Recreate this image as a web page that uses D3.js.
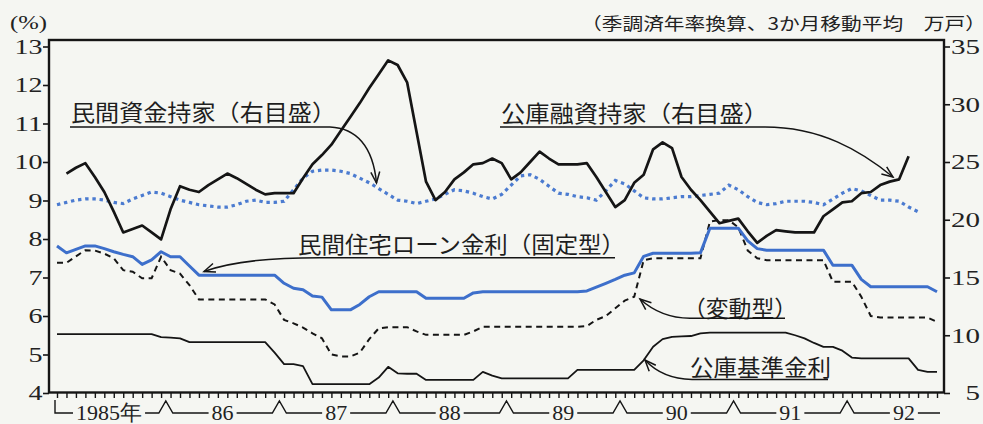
<!DOCTYPE html>
<html><head><meta charset="utf-8">
<script src="https://cdn.jsdelivr.net/npm/d3@7"></script>
<style>
body{margin:0;background:#f5f6f2;}
svg{display:block}
</style></head><body>
<svg id="c" width="983" height="424"></svg>
<script>
// ---- data (monthly, Jan 1985 = index 0 ... Oct 1992 = index 93) ----
const months = d3.range(94);
const yearLabels = ["1985年","86","87","88","89","90","91","92"];
const leftTicks = [4,5,6,7,8,9,10,11,12,13];
const rightTicks = [5,10,15,20,25,30,35];

// 民間資金持家 (万戸, right scale), starts Feb 1985 (index 1)
const privateStartIndex = 1;
const privateHousing = [24.0,24.5,24.9,23.7,22.4,20.7,18.9,19.2,19.5,18.9,18.3,20.9,22.9,22.6,22.4,23.0,23.5,24.0,23.6,23.1,
22.6,22.2,22.3,22.3,22.3,23.6,24.8,25.6,26.5,27.7,28.9,30.1,31.4,32.6,33.8,33.4,31.9,27.6,23.3,21.7,
22.4,23.5,24.1,24.8,24.9,25.3,24.9,23.5,24.1,25.0,25.9,25.3,24.8,24.8,24.8,24.9,23.7,22.4,21.1,21.7,
23.2,23.9,26.1,26.7,26.2,23.7,22.6,21.7,20.7,19.7,19.9,20.1,19.0,18.0,18.6,19.1,19.0,18.9,18.9,18.9,
20.3,20.9,21.5,21.6,22.3,22.4,23.0,23.3,23.5,25.5];

// 公庫融資持家 (万戸, right scale), index 0..91
const publicHousing = [21.3,21.5,21.7,21.8,21.8,21.7,21.5,21.4,21.8,22.1,22.4,22.3,22.0,21.7,21.5,21.3,21.2,21.1,21.1,21.3,
21.6,21.7,21.5,21.5,21.6,22.6,23.6,24.2,24.3,24.3,24.2,24.0,23.6,23.2,22.7,22.2,21.7,21.6,21.4,21.6,
21.8,22.2,22.6,22.5,22.3,22.0,21.8,22.2,23.0,23.8,23.9,23.5,22.9,22.3,22.2,22.0,21.9,21.7,22.5,23.4,
23.1,22.5,21.9,21.8,21.8,21.9,22.0,22.0,22.1,22.2,22.3,23.0,22.6,22.0,21.5,21.3,21.4,21.6,21.6,21.6,
21.5,21.3,21.8,22.3,22.7,22.5,22.1,21.7,21.7,21.6,21.1,20.7];

// 民間住宅ローン金利（固定型） (%, left scale)
const fixedRate = [7.82,7.64,7.73,7.82,7.82,7.75,7.67,7.60,7.54,7.34,7.46,7.67,7.54,7.54,7.30,7.06,7.06,7.06,7.06,7.06,
7.06,7.06,7.06,7.06,6.85,6.72,6.68,6.52,6.49,6.16,6.16,6.16,6.30,6.50,6.63,6.63,6.63,6.63,6.63,6.46,
6.46,6.46,6.46,6.46,6.60,6.63,6.63,6.63,6.63,6.63,6.63,6.63,6.63,6.63,6.63,6.63,6.65,6.75,6.85,6.95,
7.06,7.12,7.55,7.63,7.63,7.63,7.63,7.63,7.64,8.28,8.28,8.28,8.28,7.95,7.75,7.71,7.71,7.71,7.71,7.71,
7.71,7.71,7.32,7.32,7.32,6.95,6.76,6.76,6.76,6.76,6.76,6.76,6.76,6.63];

// （変動型） (%, left scale)
const variableRate = [7.38,7.38,7.55,7.71,7.70,7.62,7.50,7.19,7.15,6.98,6.98,7.54,7.19,7.10,6.80,6.43,6.43,6.43,6.43,6.43,
6.43,6.43,6.43,6.30,5.90,5.81,5.70,5.55,5.42,5.00,4.95,4.95,5.05,5.40,5.68,5.71,5.71,5.71,5.60,5.51,
5.51,5.51,5.51,5.51,5.60,5.72,5.72,5.72,5.72,5.72,5.72,5.72,5.72,5.72,5.72,5.72,5.74,5.90,6.00,6.20,
6.40,6.50,7.45,7.50,7.50,7.50,7.50,7.50,7.50,8.45,8.49,8.49,8.30,7.70,7.50,7.45,7.45,7.45,7.45,7.45,
7.45,7.45,6.89,6.89,6.89,6.50,6.00,5.96,5.96,5.96,5.96,5.96,5.96,5.85];

// 公庫基準金利 (%, left scale)
const publicRate = [5.53,5.53,5.53,5.53,5.53,5.53,5.53,5.53,5.53,5.53,5.53,5.45,5.44,5.42,5.32,5.32,5.32,5.32,5.32,5.32,
5.32,5.32,5.32,5.05,4.75,4.75,4.70,4.23,4.23,4.23,4.23,4.23,4.23,4.23,4.40,4.68,4.51,4.50,4.50,4.34,
4.34,4.34,4.34,4.34,4.34,4.55,4.45,4.38,4.38,4.38,4.38,4.38,4.38,4.38,4.38,4.60,4.60,4.60,4.60,4.60,
4.60,4.60,4.85,5.20,5.40,5.46,5.47,5.48,5.55,5.57,5.57,5.57,5.57,5.57,5.57,5.57,5.57,5.57,5.50,5.42,
5.30,5.20,5.20,5.10,4.92,4.90,4.90,4.90,4.90,4.90,4.90,4.60,4.55,4.55];

// ---- layout ----
const svg = d3.select("#c");
const X0 = 49, X1 = 944, Y0 = 40, Y1 = 392.5;
const x = d3.scaleLinear().domain([0, 93]).range([57, 937]);
const yL = d3.scaleLinear().domain([4, 13]).range([393, 46.5]);
const yR = d3.scaleLinear().domain([5, 35]).range([393, 46.5]);
const INK = "#151515";
const SERIF = "'Liberation Serif','Times New Roman',serif";
const CJK = "'Noto Sans CJK JP','Noto Sans CJK SC',sans-serif";

// data lines
const lineR = d3.line().defined(d => d.v != null).x(d => x(d.i)).y(d => yR(d.v));
const lineL = d3.line().defined(d => d.v != null).x(d => x(d.i)).y(d => yL(d.v));
const toPts = (arr, start) => arr.map((v, k) => ({i: k + start, v}));

const gData = svg.append("g");
gData.append("path").datum(toPts(publicHousing, 0)).attr("d", lineR)
  .attr("fill", "none").attr("stroke", "#4b7bd0").attr("stroke-width", 3.2)
  .attr("stroke-dasharray", "3.4,3.8").attr("stroke-linecap", "butt");
gData.append("path").datum(toPts(privateHousing, privateStartIndex)).attr("d", lineR)
  .attr("fill", "none").attr("stroke", INK).attr("stroke-width", 2.7).attr("stroke-linejoin", "round");
gData.append("path").datum(toPts(variableRate, 0)).attr("d", lineL)
  .attr("fill", "none").attr("stroke", INK).attr("stroke-width", 2).attr("stroke-dasharray", "6,4.5");
gData.append("path").datum(toPts(fixedRate, 0)).attr("d", lineL)
  .attr("fill", "none").attr("stroke", "#3d6fcb").attr("stroke-width", 3).attr("stroke-linejoin", "round");
gData.append("path").datum(toPts(publicRate, 0)).attr("d", lineL)
  .attr("fill", "none").attr("stroke", INK).attr("stroke-width", 1.8).attr("stroke-linejoin", "round");

// frame
svg.append("rect").attr("x", X0).attr("y", Y0).attr("width", X1 - X0).attr("height", Y1 - Y0)
  .attr("fill", "none").attr("stroke", INK).attr("stroke-width", 2.4);

// left axis
const gL = svg.append("g").attr("transform", `translate(${X0},0)`)
  .call(d3.axisLeft(yL).tickValues(leftTicks).tickSize(6).tickPadding(0.5).tickFormat(d3.format("d")));
gL.select(".domain").remove();
gL.selectAll(".tick line").attr("stroke", INK).attr("stroke-width", 1.6);
gL.selectAll(".tick text").attr("font-family", SERIF).attr("font-size", 21.5).attr("fill", "#222")
  .attr("textLength", d => String(d).length * 14).attr("lengthAdjust", "spacingAndGlyphs");

// right axis
const gR = svg.append("g").attr("transform", `translate(${X1},0)`)
  .call(d3.axisRight(yR).tickValues(rightTicks).tickSize(6).tickFormat(d3.format("d")));
gR.select(".domain").remove();
gR.selectAll(".tick line").attr("stroke", INK).attr("stroke-width", 1.6);
gR.selectAll(".tick text").attr("font-family", SERIF).attr("font-size", 21.5).attr("fill", "#222")
  .attr("x", 36).attr("text-anchor", "end")
  .attr("textLength", d => String(d).length * 14.5).attr("lengthAdjust", "spacingAndGlyphs");

// bottom month ticks
const gB = svg.append("g").attr("transform", `translate(0,${Y1})`)
  .call(d3.axisBottom(x).tickValues(months).tickSize(5.5).tickFormat(""));
gB.select(".domain").remove();
gB.selectAll(".tick line").attr("stroke", INK).attr("stroke-width", 1.4);

// year labels and bracket line
const yrY = 420, brY = 413, peakY = 401;
const yrG = svg.append("g");
const yrText = yrG.selectAll("text").data(yearLabels).join("text")
  .attr("x", (d, k) => x(12 * k + 5.5)).attr("y", yrY)
  .attr("text-anchor", "middle").attr("font-family", SERIF).attr("font-size", 22).attr("fill", "#222")
  .text(d => d);
const boxes = [];
yrText.each(function() { const b = this.getBBox(); boxes.push([b.x, b.x + b.width]); });
let p = `M${x(0) - 2},${peakY - 1}V${brY}H${boxes[0][0] - 3}`;
for (let k = 1; k < yearLabels.length; k++) {
  const bx = x(12 * k - 0.5);
  p += `M${boxes[k - 1][1] + 3},${brY}H${bx - 7}L${bx},${peakY}L${bx + 7},${brY}H${boxes[k][0] - 3}`;
}
p += `M${boxes[yearLabels.length - 1][1] + 3},${brY}H${x(93) + 3}`;
yrG.append("path").attr("d", p).attr("fill", "none").attr("stroke", INK).attr("stroke-width", 1.4);

// headers
svg.append("text").attr("x", 10).attr("y", 29).attr("font-family", SERIF).attr("font-size", 19)
  .attr("fill", "#222").attr("textLength", 37).attr("lengthAdjust", "spacingAndGlyphs").text("(%)");
svg.append("text").attr("x", 581).attr("y", 22).attr("dominant-baseline", "central")
  .attr("font-family", CJK).attr("font-size", 17).attr("fill", "#222")
  .attr("textLength", 405).attr("lengthAdjust", "spacingAndGlyphs")
  .text("（季調済年率換算、3か月移動平均　万戸）");

// annotations
const notes = [
  {t: "民間資金持家（右目盛）", x: 71, y: 111, w: 265,
   path: "M70,127H330C356,128 373,146 376.5,183", tip: [376.5, 183], from: [374, 160]},
  {t: "公庫融資持家（右目盛）", x: 501, y: 112, w: 267,
   path: "M500,127H765C820,127 860,150 893,177", tip: [893, 177], from: [870, 160]},
  {t: "民間住宅ローン金利（固定型）", x: 298, y: 243, w: 327,
   path: "M615,257.7H330C270,257 230,262 204,271.5", tip: [204, 271.5], from: [225, 264]},
  {t: "（変動型）", x: 683, y: 307, w: 114,
   path: "M785,318.3H690C668,318 652,310 640,299", tip: [640, 299], from: [652, 309]},
  {t: "公庫基準金利", x: 690, y: 366, w: 141,
   path: "M828,379.5H692C672,379 656,372 645,360", tip: [645, 360], from: [655, 371]}
];
const gN = svg.append("g");
notes.forEach(n => {
  gN.append("text").attr("x", n.x).attr("y", n.y).attr("dominant-baseline", "central")
    .attr("font-family", CJK).attr("font-size", 22.5).attr("fill", "#1e1e1e")
    .attr("textLength", n.w).attr("lengthAdjust", "spacingAndGlyphs").text(n.t);
  gN.append("path").attr("d", n.path).attr("fill", "none").attr("stroke", INK).attr("stroke-width", 1.5);
  const ang = Math.atan2(n.tip[1] - n.from[1], n.tip[0] - n.from[0]);
  const L = 12, s = 0.38;
  const a1 = [n.tip[0] - L * Math.cos(ang - s), n.tip[1] - L * Math.sin(ang - s)];
  const a2 = [n.tip[0] - L * Math.cos(ang + s), n.tip[1] - L * Math.sin(ang + s)];
  gN.append("path").attr("d", `M${a1}L${n.tip}L${a2}`).attr("fill", "none")
    .attr("stroke", INK).attr("stroke-width", 1.5);
});
</script>
</body></html>
